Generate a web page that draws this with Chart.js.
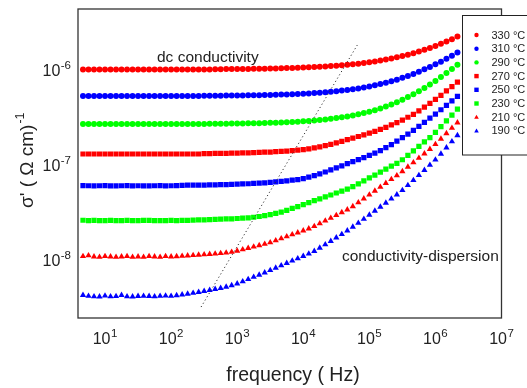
<!DOCTYPE html>
<html>
<head>
<meta charset="utf-8">
<script src="https://cdn.jsdelivr.net/npm/chart.js@4/dist/chart.umd.min.js"></script>
<style>
  body { margin: 0; background: #fff; }
  canvas { display: block; }
</style>
</head>
<body>
<canvas id="myChart" width="527" height="388"></canvas>
<script>
// frequency points (Hz)
var freq = [4.642, 5.623, 6.813, 8.254,
  1.0e1, 1.212e1, 1.468e1, 1.778e1, 2.154e1, 2.610e1, 3.162e1, 3.831e1, 4.642e1, 5.623e1, 6.813e1, 8.254e1,
  1.0e2, 1.212e2, 1.468e2, 1.778e2, 2.154e2, 2.610e2, 3.162e2, 3.831e2, 4.642e2, 5.623e2, 6.813e2, 8.254e2,
  1.0e3, 1.212e3, 1.468e3, 1.778e3, 2.154e3, 2.610e3, 3.162e3, 3.831e3, 4.642e3, 5.623e3, 6.813e3, 8.254e3,
  1.0e4, 1.212e4, 1.468e4, 1.778e4, 2.154e4, 2.610e4, 3.162e4, 3.831e4, 4.642e4, 5.623e4, 6.813e4, 8.254e4,
  1.0e5, 1.212e5, 1.468e5, 1.778e5, 2.154e5, 2.610e5, 3.162e5, 3.831e5, 4.642e5, 5.623e5, 6.813e5, 8.254e5,
  1.0e6, 1.212e6, 1.468e6, 1.778e6, 2.154e6];

// conductivity, one array per temperature
var s330 = [1.055e-6, 1.055e-6, 1.055e-6, 1.055e-6, 1.055e-6, 1.055e-6, 1.055e-6, 1.055e-6, 1.055e-6, 1.055e-6, 1.055e-6, 1.055e-6,
  1.055e-6, 1.055e-6, 1.055e-6, 1.055e-6, 1.055e-6, 1.055e-6, 1.055e-6, 1.055e-6, 1.055e-6, 1.055e-6, 1.055e-6, 1.055e-6,
  1.06e-6, 1.06e-6, 1.065e-6, 1.065e-6, 1.067e-6, 1.069e-6, 1.070e-6, 1.072e-6, 1.074e-6, 1.077e-6, 1.080e-6, 1.083e-6,
  1.086e-6, 1.091e-6, 1.095e-6, 1.100e-6, 1.105e-6, 1.112e-6, 1.118e-6, 1.127e-6, 1.135e-6, 1.146e-6, 1.156e-6, 1.169e-6,
  1.183e-6, 1.199e-6, 1.216e-6, 1.237e-6, 1.259e-6, 1.284e-6, 1.311e-6, 1.343e-6, 1.378e-6, 1.418e-6, 1.461e-6, 1.511e-6,
  1.566e-6, 1.631e-6, 1.699e-6, 1.779e-6, 1.866e-6, 1.967e-6, 2.076e-6, 2.202e-6, 2.341e-6];
var s310 = [5.55e-7, 5.55e-7, 5.55e-7, 5.55e-7, 5.55e-7, 5.55e-7, 5.55e-7, 5.55e-7, 5.55e-7, 5.55e-7, 5.55e-7, 5.55e-7,
  5.55e-7, 5.55e-7, 5.55e-7, 5.55e-7, 5.55e-7, 5.55e-7, 5.55e-7, 5.55e-7, 5.55e-7, 5.55e-7, 5.57e-7, 5.58e-7,
  5.58e-7, 5.59e-7, 5.60e-7, 5.61e-7, 5.62e-7, 5.63e-7, 5.64e-7, 5.65e-7, 5.665e-7, 5.68e-7, 5.70e-7, 5.717e-7,
  5.74e-7, 5.766e-7, 5.80e-7, 5.83e-7, 5.87e-7, 5.91e-7, 5.96e-7, 6.01e-7, 6.08e-7, 6.15e-7, 6.23e-7, 6.32e-7,
  6.42e-7, 6.54e-7, 6.67e-7, 6.83e-7, 6.98e-7, 7.18e-7, 7.40e-7, 7.65e-7, 7.93e-7, 8.24e-7, 8.61e-7, 9.01e-7,
  9.47e-7, 9.99e-7, 10.58e-7, 11.23e-7, 11.99e-7, 12.75e-7, 13.7e-7, 14.75e-7, 15.9e-7];
var s290 = [2.81e-7, 2.81e-7, 2.81e-7, 2.81e-7, 2.81e-7, 2.81e-7, 2.81e-7, 2.81e-7, 2.81e-7, 2.81e-7, 2.81e-7, 2.81e-7,
  2.81e-7, 2.81e-7, 2.81e-7, 2.81e-7, 2.81e-7, 2.81e-7, 2.81e-7, 2.81e-7, 2.81e-7, 2.81e-7, 2.82e-7, 2.825e-7,
  2.83e-7, 2.835e-7, 2.839e-7, 2.843e-7, 2.848e-7, 2.854e-7, 2.859e-7, 2.866e-7, 2.874e-7, 2.883e-7, 2.893e-7, 2.907e-7,
  2.920e-7, 2.937e-7, 2.955e-7, 2.978e-7, 3.002e-7, 3.030e-7, 3.062e-7, 3.098e-7, 3.140e-7, 3.189e-7, 3.245e-7, 3.307e-7,
  3.38e-7, 3.467e-7, 3.564e-7, 3.674e-7, 3.797e-7, 3.939e-7, 4.104e-7, 4.296e-7, 4.508e-7, 4.773e-7, 5.060e-7, 5.400e-7,
  5.79e-7, 6.22e-7, 6.74e-7, 7.31e-7, 8.00e-7, 8.77e-7, 9.66e-7, 10.66e-7, 11.83e-7];
var s270 = [1.36e-7, 1.36e-7, 1.36e-7, 1.36e-7, 1.36e-7, 1.36e-7, 1.36e-7, 1.36e-7, 1.36e-7, 1.36e-7, 1.36e-7, 1.36e-7,
  1.36e-7, 1.36e-7, 1.36e-7, 1.36e-7, 1.36e-7, 1.36e-7, 1.36e-7, 1.36e-7, 1.36e-7, 1.36e-7, 1.374e-7, 1.376e-7,
  1.379e-7, 1.381e-7, 1.384e-7, 1.387e-7, 1.391e-7, 1.395e-7, 1.399e-7, 1.406e-7, 1.412e-7, 1.420e-7, 1.427e-7, 1.438e-7,
  1.448e-7, 1.461e-7, 1.475e-7, 1.492e-7, 1.509e-7, 1.543e-7, 1.579e-7, 1.620e-7, 1.666e-7, 1.721e-7, 1.781e-7, 1.850e-7,
  1.925e-7, 1.999e-7, 2.079e-7, 2.163e-7, 2.259e-7, 2.355e-7, 2.472e-7, 2.600e-7, 2.749e-7, 2.915e-7, 3.098e-7, 3.315e-7,
  3.557e-7, 3.874e-7, 4.229e-7, 4.643e-7, 5.115e-7, 5.648e-7, 6.277e-7, 6.978e-7, 7.776e-7];
var s250 = [6.33e-8, 6.30e-8, 6.28e-8, 6.30e-8, 6.32e-8, 6.29e-8, 6.27e-8, 6.30e-8, 6.31e-8, 6.28e-8, 6.30e-8, 6.29e-8,
  6.27e-8, 6.30e-8, 6.31e-8, 6.29e-8, 6.30e-8, 6.32e-8, 6.370e-8, 6.380e-8, 6.390e-8, 6.402e-8, 6.413e-8, 6.428e-8,
  6.446e-8, 6.466e-8, 6.486e-8, 6.512e-8, 6.543e-8, 6.576e-8, 6.613e-8, 6.657e-8, 6.706e-8, 6.763e-8, 6.829e-8, 6.905e-8,
  6.991e-8, 7.083e-8, 7.201e-8, 7.323e-8, 7.475e-8, 7.755e-8, 8.068e-8, 8.416e-8, 8.792e-8, 9.237e-8, 9.715e-8, 10.22e-8,
  10.80e-8, 11.33e-8, 11.86e-8, 12.44e-8, 13.14e-8, 13.90e-8, 14.80e-8, 15.89e-8, 17.10e-8, 18.57e-8, 20.18e-8, 22.00e-8,
  24.14e-8, 26.53e-8, 29.26e-8, 32.39e-8, 35.77e-8, 39.75e-8, 44.2e-8, 49.3e-8, 55.0e-8];
var s230 = [2.73e-8, 2.71e-8, 2.72e-8, 2.70e-8, 2.71e-8, 2.72e-8, 2.70e-8, 2.71e-8, 2.72e-8, 2.71e-8, 2.70e-8, 2.72e-8,
  2.72e-8, 2.71e-8, 2.70e-8, 2.71e-8, 2.72e-8, 2.71e-8, 2.723e-8, 2.729e-8, 2.735e-8, 2.748e-8, 2.761e-8, 2.773e-8,
  2.786e-8, 2.799e-8, 2.815e-8, 2.830e-8, 2.848e-8, 2.870e-8, 2.897e-8, 2.935e-8, 2.990e-8, 3.060e-8, 3.135e-8, 3.220e-8,
  3.320e-8, 3.465e-8, 3.630e-8, 3.805e-8, 3.990e-8, 4.178e-8, 4.385e-8, 4.592e-8, 4.808e-8, 5.035e-8, 5.284e-8, 5.534e-8,
  5.794e-8, 6.152e-8, 6.592e-8, 7.079e-8, 7.603e-8, 8.166e-8, 8.770e-8, 9.419e-8, 10.12e-8, 10.86e-8, 11.83e-8, 13.18e-8,
  14.69e-8, 16.37e-8, 18.20e-8, 20.28e-8, 22.91e-8, 26.42e-8, 30.41e-8, 34.99e-8, 40.27e-8];
var s210 = [1.14e-8, 1.16e-8, 1.13e-8, 1.12e-8, 1.14e-8, 1.13e-8, 1.12e-8, 1.13e-8, 1.14e-8, 1.12e-8, 1.13e-8, 1.12e-8,
  1.14e-8, 1.13e-8, 1.12e-8, 1.14e-8, 1.13e-8, 1.135e-8, 1.148e-8, 1.159e-8, 1.169e-8, 1.180e-8, 1.189e-8, 1.199e-8,
  1.211e-8, 1.225e-8, 1.242e-8, 1.265e-8, 1.300e-8, 1.343e-8, 1.387e-8, 1.435e-8, 1.483e-8, 1.535e-8, 1.592e-8, 1.671e-8,
  1.754e-8, 1.841e-8, 1.932e-8, 2.023e-8, 2.123e-8, 2.228e-8, 2.360e-8, 2.523e-8, 2.698e-8, 2.884e-8, 3.083e-8, 3.296e-8,
  3.524e-8, 3.819e-8, 4.198e-8, 4.613e-8, 5.058e-8, 5.559e-8, 6.109e-8, 6.699e-8, 7.362e-8, 8.072e-8, 8.933e-8, 9.954e-8,
  11.07e-8, 12.33e-8, 13.74e-8, 15.28e-8, 17.22e-8, 19.63e-8, 22.39e-8, 25.53e-8, 29.11e-8];
var s190 = [4.45e-9, 4.35e-9, 4.30e-9, 4.28e-9, 4.38e-9, 4.30e-9, 4.32e-9, 4.45e-9, 4.30e-9, 4.28e-9, 4.33e-9, 4.35e-9,
  4.33e-9, 4.30e-9, 4.35e-9, 4.38e-9, 4.35e-9, 4.42e-9, 4.50e-9, 4.58e-9, 4.68e-9, 4.78e-9, 4.90e-9, 5.01e-9,
  5.13e-9, 5.27e-9, 5.42e-9, 5.62e-9, 5.86e-9, 6.18e-9, 6.52e-9, 6.89e-9, 7.26e-9, 7.66e-9, 8.11e-9, 8.59e-9,
  9.10e-9, 9.64e-9, 10.21e-9, 10.79e-9, 11.43e-9, 12.11e-9, 12.91e-9, 13.96e-9, 15.14e-9, 16.44e-9, 17.91e-9, 19.45e-9,
  21.23e-9, 23.23e-9, 25.53e-9, 28.12e-9, 31.05e-9, 34.20e-9, 37.67e-9, 41.59e-9, 45.92e-9, 50.70e-9, 56.49e-9, 63.68e-9,
  71.94e-9, 81.28e-9, 91.83e-9, 104.0e-9, 118.3e-9, 136.5e-9, 158.5e-9, 184.1e-9, 213.8e-9];

var seriesLabels = ['330 °C', '310 °C', '290 °C', '270 °C', '250 °C', '230 °C', '210 °C', '190 °C'];
var seriesValues = [s330, s310, s290, s270, s250, s230, s210, s190];
var seriesColors = ['#ff0000', '#0000ff', '#00ff00', '#ff0000', '#0000ff', '#00ff00', '#ff0000', '#0000ff'];
var seriesStyles = ['circle', 'circle', 'circle', 'rect', 'rect', 'rect', 'triangle', 'triangle'];

// dotted guide line (two ends)
var guideFreq = [284, 6.58e4];
var guideValue = [3.33e-9, 1.91e-6];

var xTickExp = [1, 2, 3, 4, 5, 6, 7];
var yTickExp = [-8, -7, -6];

var FONT = '"Liberation Sans", Arial, sans-serif';
var INK = '#222';

function toPoints(xs, ys) {
    return xs.map(function(x, i) { return {x: x, y: ys[i]}; });
}

var radii = {circle: 3.0, rect: 3.7, triangle: 3.6};

var datasets = [{
    type: 'line',
    data: toPoints(guideFreq, guideValue),
    borderColor: '#333',
    borderWidth: 1,
    borderDash: [1.2, 2.6],
    pointRadius: 0,
    fill: false
}];
seriesValues.forEach(function(vals, i) {
    datasets.push({
        label: seriesLabels[i],
        data: toPoints(freq, vals),
        pointStyle: seriesStyles[i],
        pointRadius: radii[seriesStyles[i]],
        pointBackgroundColor: seriesColors[i],
        pointBorderColor: seriesColors[i],
        pointBorderWidth: 0,
        showLine: false
    });
});

function drawPower(ctx, exp, x, y, align) {
    ctx.font = '16px ' + FONT;
    var wb = ctx.measureText('10').width;
    ctx.font = '11.5px ' + FONT;
    var ws = ctx.measureText(exp).width;
    var x0 = align === 'right' ? x - wb - ws - 0.5 : x - (wb + ws + 0.5) / 2;
    ctx.textAlign = 'left';
    ctx.textBaseline = 'middle';
    ctx.font = '16px ' + FONT;
    ctx.fillText('10', x0, y);
    ctx.font = '11.5px ' + FONT;
    ctx.fillText(exp, x0 + wb + 0.5, y - 6);
}

function drawMarker(ctx, style, x, y, r) {
    ctx.beginPath();
    if (style === 'circle') {
        ctx.arc(x, y, r, 0, Math.PI * 2);
    } else if (style === 'rect') {
        ctx.rect(x - r, y - r, 2 * r, 2 * r);
    } else {
        ctx.moveTo(x, y - r * 1.1);
        ctx.lineTo(x + r * 1.05, y + r * 0.75);
        ctx.lineTo(x - r * 1.05, y + r * 0.75);
        ctx.closePath();
    }
    ctx.fill();
}

var decorations = {
    id: 'decorations',
    afterDraw: function(chart) {
        var ctx = chart.ctx, a = chart.chartArea;
        var xs = chart.scales.x, ys = chart.scales.y;
        ctx.save();
        // frame
        ctx.strokeStyle = '#333';
        ctx.lineWidth = 1.3;
        ctx.strokeRect(a.left, a.top, a.right - a.left, a.bottom - a.top);

        ctx.fillStyle = INK;
        xTickExp.forEach(function(e) {
            drawPower(ctx, String(e), xs.getPixelForValue(Math.pow(10, e)), 340, 'center');
        });
        yTickExp.forEach(function(e) {
            drawPower(ctx, String(e), 71, ys.getPixelForValue(Math.pow(10, e)), 'right');
        });

        // axis titles
        ctx.textAlign = 'center';
        ctx.textBaseline = 'alphabetic';
        ctx.font = '19.5px ' + FONT;
        ctx.fillText('frequency ( Hz)', 293, 381);

        ctx.save();
        ctx.translate(33, 208);
        ctx.rotate(-Math.PI / 2);
        ctx.textAlign = 'left';
        ctx.font = '19px ' + FONT;
        var t = "σ' ( Ω cm)";
        ctx.fillText(t, 0, 0);
        var tw = ctx.measureText(t).width;
        ctx.font = '12.5px ' + FONT;
        ctx.fillText('-1', tw + 1, -9);
        ctx.restore();

        // annotations
        ctx.textAlign = 'left';
        ctx.font = '15.5px ' + FONT;
        ctx.fillText('dc conductivity', 157, 62);
        ctx.fillText('conductivity-dispersion', 342, 261);

        // legend box
        ctx.fillStyle = '#fff';
        ctx.fillRect(462.5, 15.5, 100, 139.5);
        ctx.strokeStyle = '#222';
        ctx.lineWidth = 1;
        ctx.strokeRect(462.5, 15.5, 100, 139.5);
        ctx.font = '11px ' + FONT;
        ctx.textBaseline = 'middle';
        seriesLabels.forEach(function(lab, i) {
            var yy = 35 + i * 13.7;
            ctx.fillStyle = seriesColors[i];
            drawMarker(ctx, seriesStyles[i], 476.5, yy, 2.2);
            ctx.fillStyle = INK;
            ctx.fillText(lab, 491.5, yy + 0.5);
        });
        ctx.restore();
    }
};

var ctx = document.getElementById('myChart');
var myChart = new Chart(ctx, {
    type: 'scatter',
    data: {datasets: datasets},
    options: {
        responsive: false,
        animation: false,
        devicePixelRatio: 1,
        layout: {padding: {left: 78, right: 25.5, top: 9, bottom: 70}},
        plugins: {legend: {display: false}, tooltip: {enabled: false}},
        scales: {
            x: {type: 'logarithmic', display: false, min: 3.9, max: 1e7},
            y: {type: 'logarithmic', display: false, min: 2.553e-9, max: 4.571e-6}
        }
    },
    plugins: [decorations]
});
</script>
</body>
</html>
